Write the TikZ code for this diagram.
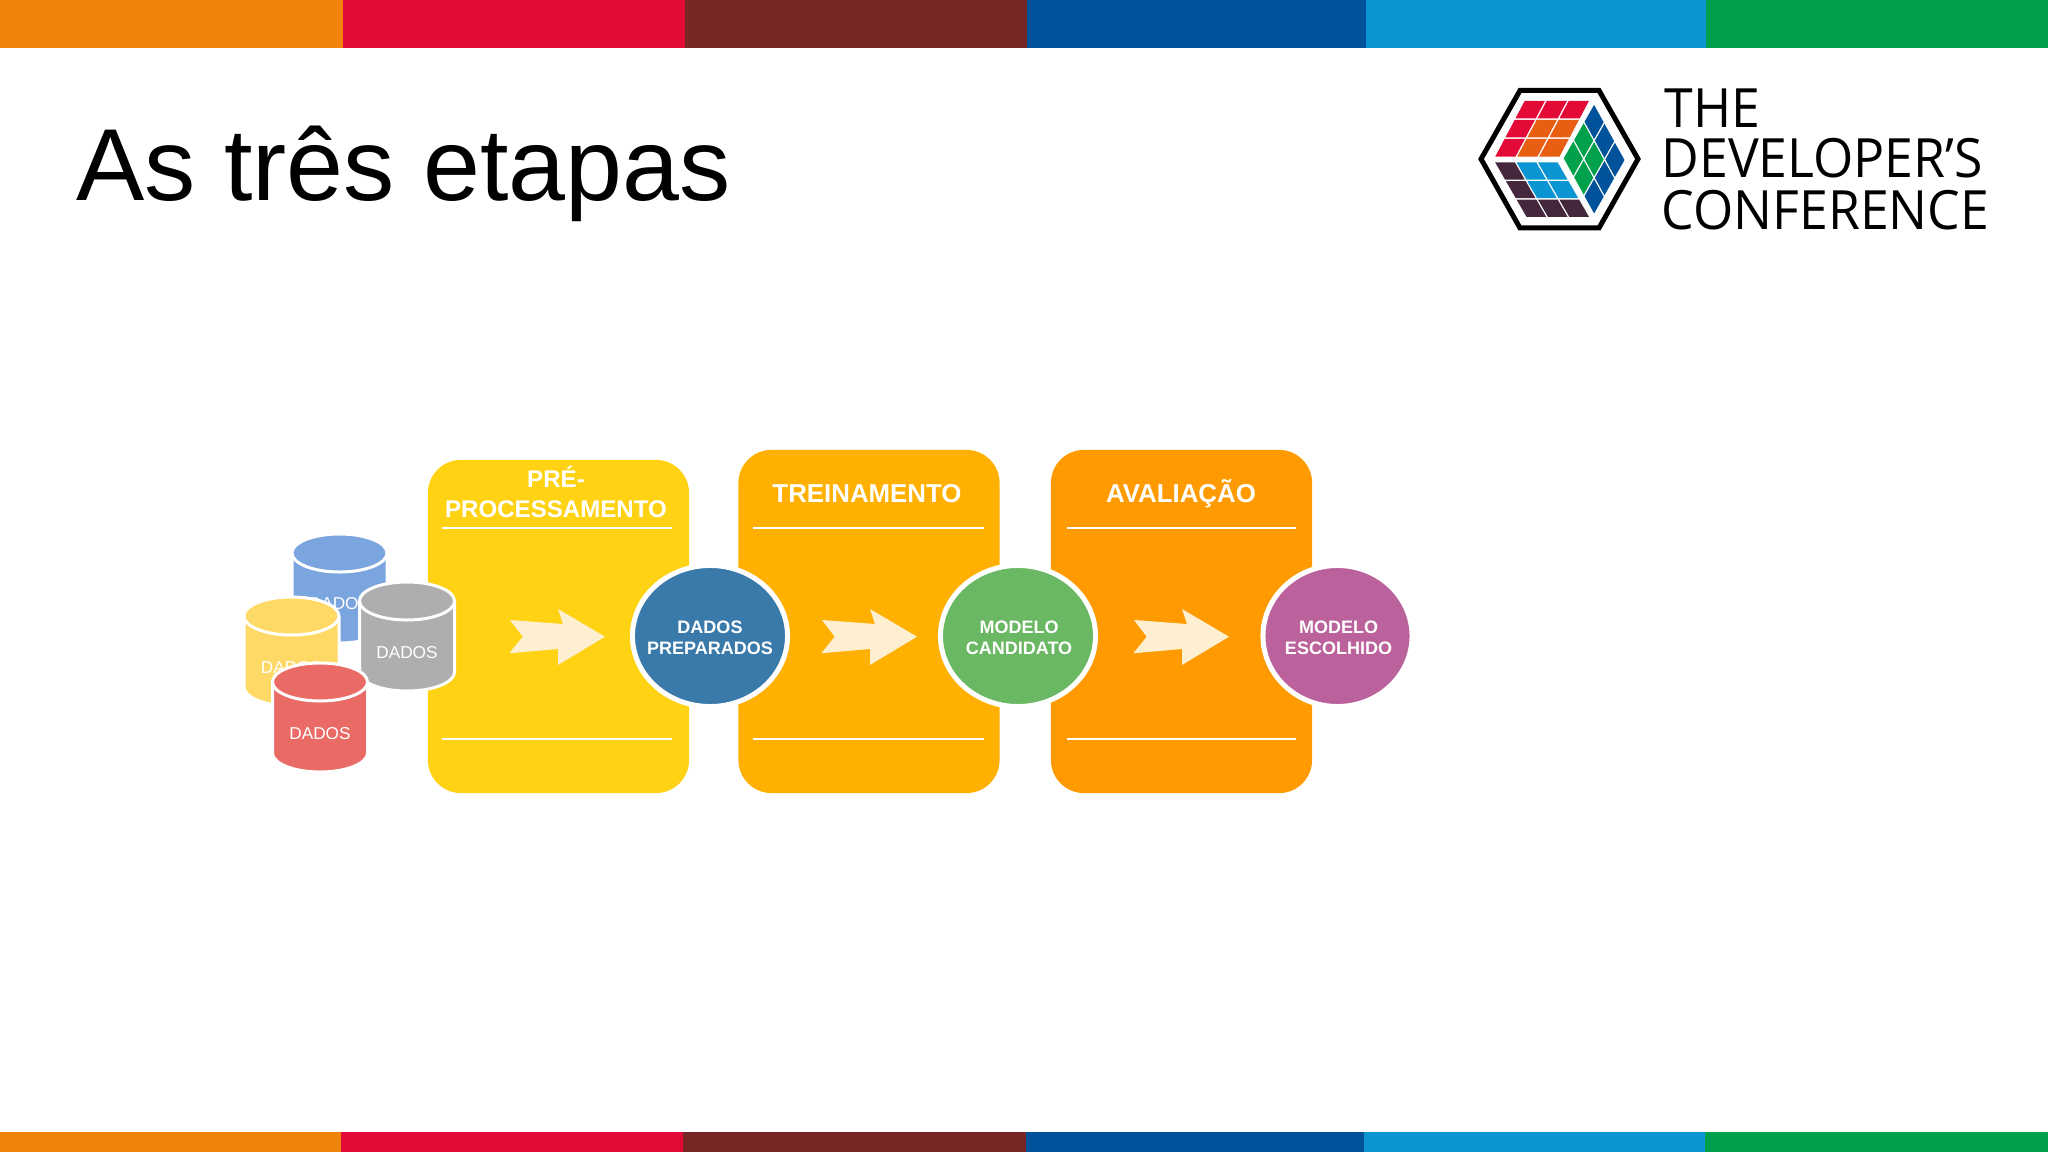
\documentclass[tikz,border=0pt]{standalone}
\usepackage{fontspec}
\setmainfont{Liberation Sans}
\newfontfamily\logoface[FakeStretch=0.955]{Open Sans}
\usetikzlibrary{shapes.geometric}

\definecolor{barOrange}{HTML}{F08309}
\definecolor{barRed}{HTML}{E30A37}
\definecolor{barMaroon}{HTML}{772525}
\definecolor{barBlue}{HTML}{00539B}
\definecolor{barSky}{HTML}{0B95D2}
\definecolor{barGreen}{HTML}{00A04D}
\definecolor{logoOrange}{HTML}{E85E12}
\definecolor{logoPurple}{HTML}{44273C}
\definecolor{stageOne}{HTML}{FFD213}
\definecolor{stageTwo}{HTML}{FFB000}
\definecolor{stageThree}{HTML}{FF9B00}
\definecolor{outBlue}{HTML}{3A7AAB}
\definecolor{outGreen}{HTML}{6AB863}
\definecolor{outPurple}{HTML}{BB629C}
\definecolor{dbBlue}{HTML}{7AA5DE}
\definecolor{dbYellow}{HTML}{FFD966}
\definecolor{dbGray}{HTML}{AEADAF}
\definecolor{dbRed}{HTML}{EA6B66}
\definecolor{arrowCream}{HTML}{FDEFCF}

\newcommand{\logocell}[3]{\fill[#3] (#1+.04,#2+.04) rectangle (#1+.96,#2+.96);}

\begin{document}
\begin{tikzpicture}[x=0.01cm, y=-0.01cm,
  stage node/.style={rectangle,rounded corners=0.33cm,minimum width=2.61cm,minimum height=3.43cm,inner sep=0pt},
  stage title/.style={anchor=base,text=white,inner sep=0pt,font=\fontsize{7.35}{8.2}\selectfont\bfseries},
  rule line/.style={white,line width=0.02cm},
  out node/.style={ellipse,draw=white,line width=0.05cm,inner sep=0pt,minimum width=1.55cm,minimum height=1.41cm},
  out text/.style={align=center,text=white,inner sep=0pt,font=\fontsize{5.12}{5.97}\selectfont\bfseries},
  db text/.style={anchor=base,text=white,inner sep=0pt,font=\fontsize{4.9}{5.9}\selectfont},
  logo text/.style={anchor=base west,inner sep=0pt,font=\logoface\fontsize{15.4}{18}\selectfont}]

\useasboundingbox (0,0) rectangle (2048,1152);

\foreach \xa/\xb/\col in {0/343/barOrange,343/685/barRed,685/1027/barMaroon,1027/1366/barBlue,1366/1706/barSky,1706/2048/barGreen}
  \fill[\col] (\xa,0) rectangle (\xb,48);
\foreach \xa/\xb/\col in {0/341/barOrange,341/683/barRed,683/1026/barMaroon,1026/1364/barBlue,1364/1705/barSky,1705/2048/barGreen}
  \fill[\col] (\xa,1132) rectangle (\xb,1152);

\node[anchor=base west,inner sep=0pt,font=\fontsize{29.1}{34}\selectfont] (title) at (76,201) {As três etapas};

\draw[line width=0.05cm] (1481,159) -- (1520,90.5) -- (1599,90.5) -- (1638,159) -- (1599,228) -- (1520,228) -- cycle;
\begin{scope}[cm={22,0,10.1,19.1,(1524.3,100)}]
  \foreach \i/\j/\col in {0/0/barRed,1/0/barRed,2/0/barRed,0/1/barRed,0/2/barRed,1/1/logoOrange,2/1/logoOrange,1/2/logoOrange,2/2/logoOrange} {\logocell{\i}{\j}{\col}}
\end{scope}
\begin{scope}[cm={10.4,18.3,-10.4,18.9,(1562.9,158.3)}]
  \foreach \i/\j/\col in {0/0/barGreen,1/0/barGreen,0/1/barGreen,1/1/barGreen,2/0/barBlue,2/1/barBlue,2/2/barBlue,0/2/barBlue,1/2/barBlue} {\logocell{\i}{\j}{\col}}
\end{scope}
\begin{scope}[cm={21.4,0,-10.7,18.6,(1493.9,161.7)}]
  \foreach \i/\j/\col in {0/0/logoPurple,0/1/logoPurple,0/2/logoPurple,1/2/logoPurple,2/2/logoPurple,1/0/barSky,2/0/barSky,1/1/barSky,2/1/barSky} {\logocell{\i}{\j}{\col}}
\end{scope}

\node[logo text] (logoThe) at (1664,128) {THE};
\node[logo text] (logoDev) at (1661,178) {DEVELOPER’S};
\node[logo text] (logoConf) at (1661,230) {CONFERENCE};

\node[stage node,fill=stageOne,minimum height=3.33cm] (prep) at (558.5,626.5) {};
\node[stage node,fill=stageTwo] (train) at (869,621.5) {};
\node[stage node,fill=stageThree] (eval) at (1181.5,621.5) {};

\foreach \xa/\xb in {442/672,753/984,1067/1296} {
  \draw[rule line] (\xa,528) -- (\xb,528);
  \draw[rule line] (\xa,739) -- (\xb,739);
}

\node[stage title,font=\fontsize{6.85}{8.2}\selectfont\bfseries] (prepTopTitle) at (556,488) {PRÉ-};
\node[stage title,font=\fontsize{6.85}{8.2}\selectfont\bfseries] (prepTitle) at (556,518) {PROCESSAMENTO};
\node[stage title] (trainTitle) at (867,503) {TREINAMENTO};
\node[stage title] (evalTitle) at (1181,503) {AVALIAÇÃO};

\foreach \dx in {0,312,624}
  \fill[arrowCream,shift={(\dx,0)}] (510,620) -- (563,624) -- (558,609) -- (605,636.7) -- (558,665) -- (558,649) -- (509.3,653.3) -- (522.7,636.7) -- cycle;

\node[out node,fill=outBlue] (prepared) at (710,636) {};
\node[out node,fill=outGreen] (candidate) at (1018,636) {};
\node[out node,fill=outPurple,minimum width=1.49cm] (chosen) at (1337.5,636) {};
\node[out text] (preparedText) at (710,637.5) {DADOS\\PREPARADOS};
\node[out text] (candidateText) at (1019,637.5) {MODELO\\CANDIDATO};
\node[out text] (chosenText) at (1338.5,637.5) {MODELO\\ESCOLHIDO};

\foreach \x/\y/\col/\nm in {339.5/534/dbBlue/dbOne,291.5/597/dbYellow/dbTwo,407/582/dbGray/dbThree,320/663/dbRed/dbFour} {
  \draw[white,line width=0.03cm,fill=\col] (\x-47.5,\y+19) -- (\x-47.5,\y+90)
    arc[start angle=180,end angle=360,x radius=.475cm,y radius=.19cm] -- (\x+47.5,\y+19)
    arc[start angle=0,end angle=180,x radius=.475cm,y radius=.19cm] -- cycle;
  \draw[white,line width=0.03cm] (\x-47.5,\y+19) arc[start angle=180,end angle=360,x radius=.475cm,y radius=.19cm];
  \node[db text] (\nm) at (\x,\y+76) {DADOS};
}
\end{tikzpicture}
\end{document}
